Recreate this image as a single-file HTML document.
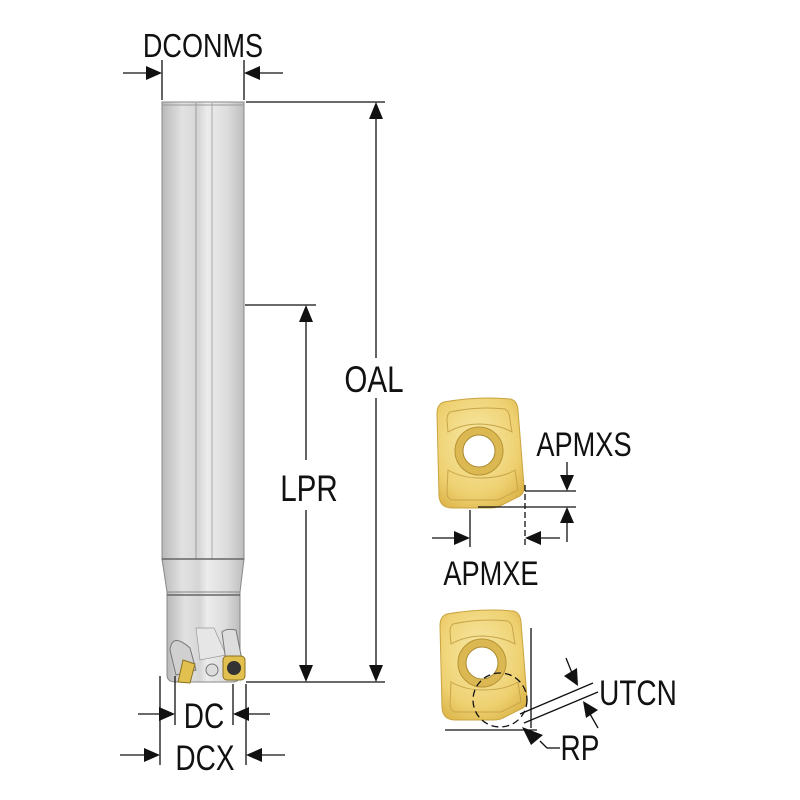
<!DOCTYPE html>
<html><head><meta charset="utf-8"><style>
html,body{margin:0;padding:0;background:#fff;width:800px;height:800px;overflow:hidden}
text{font-family:"Liberation Sans",sans-serif;fill:#111}
</style></head><body>
<svg width="800" height="800" viewBox="0 0 800 800" xmlns="http://www.w3.org/2000/svg">
<defs>
<linearGradient id="sh" x1="0" x2="1" y1="0" y2="0">
<stop offset="0" stop-color="#b9b9b9"/><stop offset="0.25" stop-color="#e2e2e2"/><stop offset="0.45" stop-color="#d6d6d6"/><stop offset="0.55" stop-color="#ececec"/><stop offset="0.8" stop-color="#dcdcdc"/><stop offset="1" stop-color="#bdbdbd"/>
</linearGradient>
<radialGradient id="gold" cx="0.45" cy="0.4" r="0.7">
<stop offset="0" stop-color="#f8eaa8"/><stop offset="0.7" stop-color="#eed070"/><stop offset="1" stop-color="#dcb448"/>
</radialGradient>
<g id="ins">
<path d="M444,402 Q478,396 510,399 Q517,400 518,410 L524,486 Q525,492 520,496 L500,506 Q496,508 490,508 L452,508 Q440,508 439,496 L437,414 Q437,404 444,402 Z" fill="url(#gold)" stroke="#c9a440" stroke-width="1"/>
<path d="M450,412 Q478,406 505,409 Q510,412 510,420 L512,432 Q500,425 480,424 Q462,424 448,432 L447,420 Q447,414 450,412Z" fill="none" stroke="#c8a54a" stroke-width="1"/>
<path d="M448,470 Q462,478 480,478 Q502,478 515,470 L518,490 L498,500 L452,500 Q447,499 447,492 Z" fill="none" stroke="#c8a54a" stroke-width="1"/>
<circle cx="479" cy="451" r="24" fill="#dcb852" stroke="#b89433"/>
<circle cx="479" cy="451" r="16" fill="#fff" stroke="#a8882e"/>
</g>
</defs>

<rect x="162" y="102" width="82" height="458" fill="url(#sh)" stroke="#888" stroke-width="1"/>
<line x1="196" y1="103" x2="196" y2="600" stroke="#999" stroke-width="1"/>
<line x1="212" y1="103" x2="212" y2="600" stroke="#aaa" stroke-width="1"/>
<line x1="162" y1="105" x2="244" y2="105" stroke="#999"/>
<path d="M162,559 L244,559 L240,592 L167,592 Z" fill="url(#sh)" stroke="#888"/>
<line x1="162" y1="559" x2="244" y2="559" stroke="#666" stroke-width="1.5"/>
<path d="M167,592 L240,592 L240,675 Q240,682 232,682 L176,682 Q167,682 167,675 Z" fill="url(#sh)" stroke="#888"/>
<line x1="167" y1="595" x2="240" y2="595" stroke="#666" stroke-width="1.5"/>
<path d="M170,650 Q172,632 190,648 L196,670 L176,675 Z" fill="#d0d0d0" stroke="#777"/>
<path d="M196,628 L214,628 L226,655 L200,660 Z" fill="#e6e6e6" stroke="#999" stroke-width="0.7"/>
<path d="M222,632 Q226,628 236,630 L242,660 L226,662 Z" fill="#ddd" stroke="#777"/>
<path d="M183,660 L195,664 L190,683 L178,682 Z" fill="#e2c050" stroke="#8a7020"/>
<circle cx="212" cy="670" r="6" fill="#ddd" stroke="#777"/>
<rect x="223" y="656" width="22" height="24" rx="4" fill="#e2c050" stroke="#8a7020"/>
<circle cx="234" cy="668" r="7" fill="#333"/>

<g stroke="#111" stroke-width="1.3" fill="none">
<line x1="162" y1="60" x2="162" y2="100"/><line x1="244" y1="60" x2="244" y2="100"/>
<line x1="123" y1="73" x2="148" y2="73"/><line x1="258" y1="73" x2="283" y2="73"/>
<line x1="246" y1="102" x2="385" y2="102"/>
<line x1="376" y1="118" x2="376" y2="358"/><line x1="376" y1="398" x2="376" y2="666"/>
<line x1="246" y1="682" x2="385" y2="682"/>
<line x1="245" y1="305" x2="316" y2="305"/>
<line x1="306" y1="320" x2="306" y2="460"/><line x1="306" y1="510" x2="306" y2="666"/>
<line x1="175" y1="676" x2="175" y2="725"/><line x1="233" y1="684" x2="233" y2="725"/>
<line x1="160" y1="676" x2="160" y2="765"/><line x1="246" y1="684" x2="246" y2="765"/>
<line x1="138" y1="714" x2="160" y2="714"/><line x1="248" y1="714" x2="270" y2="714"/>
<line x1="120" y1="755" x2="145" y2="755"/><line x1="261" y1="755" x2="285" y2="755"/>
</g>
<g fill="#111">
<polygon points="162,73 146,66 146,80"/><polygon points="244,73 260,66 260,80"/>
<polygon points="376,102 369,119 383,119"/><polygon points="376,682 369,665 383,665"/>
<polygon points="306,305 299,322 313,322"/><polygon points="306,682 299,665 313,665"/>
<polygon points="175,714 159,707 159,721"/><polygon points="233,714 249,707 249,721"/>
<polygon points="160,755 144,748 144,762"/><polygon points="246,755 262,748 262,762"/>
</g>

<text x="203" y="57" font-size="33" text-anchor="middle" transform="translate(203 0) scale(0.82 1) translate(-203 0)">DCONMS</text>
<text x="374" y="392" font-size="37" text-anchor="middle" transform="translate(374 0) scale(0.8 1) translate(-374 0)">OAL</text>
<text x="309" y="501" font-size="37" text-anchor="middle" transform="translate(309 0) scale(0.8 1) translate(-309 0)">LPR</text>
<text x="204" y="728" font-size="35" text-anchor="middle" transform="translate(204 0) scale(0.8 1) translate(-204 0)">DC</text>
<text x="205" y="770" font-size="35" text-anchor="middle" transform="translate(205 0) scale(0.8 1) translate(-205 0)">DCX</text>

<use href="#ins"/>
<g stroke="#111" stroke-width="1.3" fill="none">
<line x1="525" y1="491" x2="576" y2="491"/>
<line x1="478" y1="507" x2="576" y2="507"/>
<line x1="525" y1="485" x2="525" y2="545" stroke-dasharray="6,3"/>
<line x1="470" y1="510" x2="470" y2="547"/>
<line x1="432" y1="538" x2="455" y2="538"/><line x1="540" y1="538" x2="560" y2="538"/>
<line x1="567" y1="462" x2="567" y2="476"/><line x1="567" y1="522" x2="567" y2="542"/>
</g>
<g fill="#111">
<polygon points="470,538 454,531 454,545"/><polygon points="525,538 541,531 541,545"/>
<polygon points="567,491 560,475 574,475"/><polygon points="567,507 560,523 574,523"/>
</g>
<text x="584" y="456" font-size="34" text-anchor="middle" transform="translate(584 0) scale(0.8 1) translate(-584 0)">APMXS</text>
<text x="491" y="585" font-size="34" text-anchor="middle" transform="translate(491 0) scale(0.8 1) translate(-491 0)">APMXE</text>

<use href="#ins" transform="translate(3 212)"/>
<g stroke="#111" stroke-width="1.3" fill="none">
<line x1="531" y1="628" x2="531" y2="728"/>
<line x1="445" y1="730" x2="537" y2="730"/>
<circle cx="500" cy="700" r="27" stroke-dasharray="7,4"/>
<line x1="520" y1="714" x2="593" y2="683"/>
<line x1="524" y1="723" x2="598" y2="692"/>
<line x1="566" y1="658" x2="572" y2="673"/>
<line x1="590" y1="714" x2="598" y2="728"/>
<line x1="540" y1="741" x2="547" y2="748"/><line x1="547" y1="748" x2="560" y2="748"/>
</g>
<g fill="#111">
<polygon points="578,686 564,676 577,668"/><polygon points="583,701 598,710 586,718"/>
<polygon points="522,727 531,745 543,735"/>
</g>
<text x="638" y="705" font-size="35" text-anchor="middle" transform="translate(638 0) scale(0.8 1) translate(-638 0)">UTCN</text>
<text x="580" y="760" font-size="35" text-anchor="middle" transform="translate(580 0) scale(0.8 1) translate(-580 0)">RP</text>
</svg>
</body></html>
